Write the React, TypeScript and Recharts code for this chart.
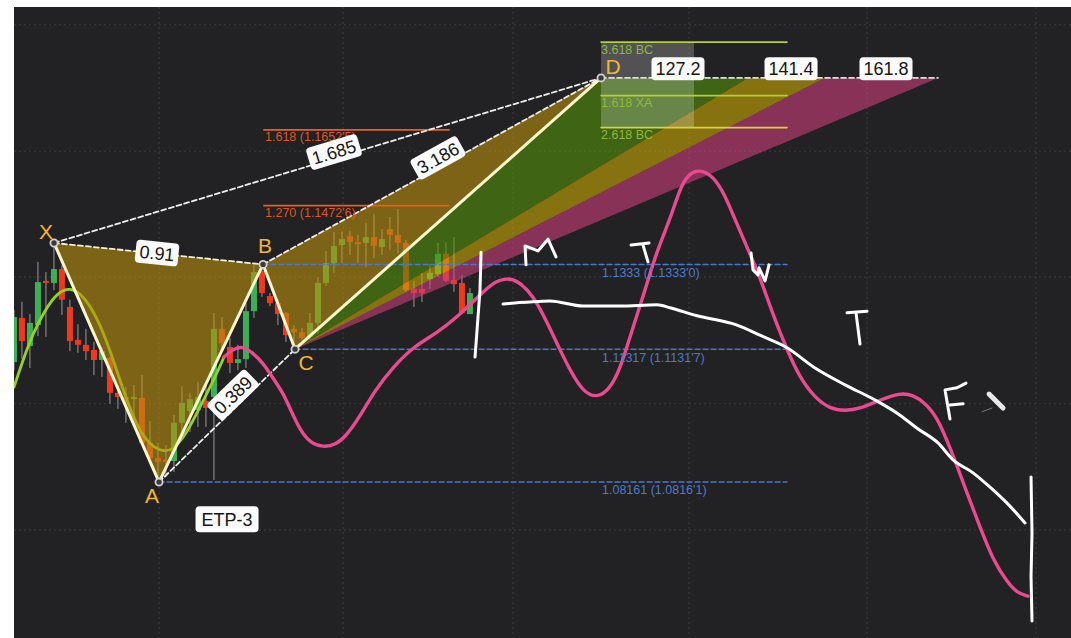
import React from 'react';
import { ComposedChart, XAxis, YAxis, CartesianGrid, Bar, Line, Area, Scatter, ReferenceArea } from 'recharts';

// candles: x = bar number, open / close / high / low in price
const barNumbers = Array.from({ length: 58 }, (_, i) => i - 1);
const opens = [1.1101,1.1206,1.1139,1.1189,1.1294,1.1289,1.1322,1.1232,1.1154,1.1142,1.1130,1.1106,1.1111,1.1028,1.1018,1.1013,1.1016,1.0909,1.0873,1.0869,1.0866,1.0957,1.0985,1.0987,1.1009,1.1018,1.1180,1.1137,1.1099,1.1108,1.1222,1.1317,1.1258,1.1241,1.1218,1.1180,1.1172,1.1161,1.1194,1.1289,1.1336,1.1379,1.1400,1.1386,1.1384,1.1398,1.1374,1.1417,1.1403,1.1384,1.1275,1.1275,1.1298,1.1310,1.1358,1.1296,1.1289,1.1215];
const closes = [1.1208,1.1151,1.1194,1.1291,1.1289,1.1322,1.1249,1.1151,1.1142,1.1127,1.1106,1.1127,1.1028,1.1018,1.1013,1.1018,1.0909,1.0873,1.0864,1.0864,1.0957,1.1004,1.1013,1.1018,1.0992,1.1180,1.1146,1.1099,1.1108,1.1222,1.1315,1.1265,1.1241,1.1215,1.1165,1.1172,1.1158,1.1194,1.1289,1.1336,1.1377,1.1393,1.1386,1.1381,1.1398,1.1377,1.1393,1.1403,1.1384,1.1272,1.1265,1.1265,1.1313,1.1358,1.1294,1.1286,1.1218,1.1265];
const highs = [1.1225,1.1244,1.1215,1.1339,1.1315,1.1384,1.1332,1.1249,1.1191,1.1180,1.1149,1.1137,1.1113,1.1047,1.1042,1.1047,1.1070,1.0961,1.0909,1.0904,1.0975,1.1044,1.1028,1.1054,1.1054,1.1218,1.1208,1.1158,1.1142,1.1241,1.1332,1.1332,1.1265,1.1249,1.1220,1.1189,1.1182,1.1218,1.1303,1.1365,1.1410,1.1412,1.1412,1.1403,1.1431,1.1453,1.1417,1.1446,1.1465,1.1391,1.1294,1.1313,1.1334,1.1384,1.1386,1.1398,1.1308,1.1277];
const lows = [1.1082,1.1108,1.1087,1.1163,1.1161,1.1272,1.1213,1.1127,1.1123,1.1106,1.1070,1.1066,1.1002,1.0990,1.0957,1.0964,1.0904,1.0873,1.0826,1.0828,1.0840,1.0933,1.0935,1.0947,1.0947,1.0821,1.1130,1.1075,1.1082,1.1087,1.1206,1.1256,1.1234,1.1189,1.1149,1.1137,1.1154,1.1154,1.1168,1.1282,1.1313,1.1336,1.1355,1.1336,1.1327,1.1348,1.1355,1.1367,1.1360,1.1268,1.1232,1.1244,1.1275,1.1303,1.1291,1.1268,1.1218,1.1215];

type Pair = [number, number];

// pattern pivots
const X: Pair = [4, 1.1384];
const A: Pair = [17.13, 1.0816];
const B: Pair = [30.13, 1.1333];
const C: Pair = [34.13, 1.11317];
const D: Pair = [72.38, 1.1776];
const E161: Pair = [114.5, 1.1776];

// shaded zones: [bar, low, high]
const zoneXAB = [[4, 1.1384, 1.1384], [17.13, 1.0816, 1.1358], [30.13, 1.1333, 1.1333]];
const zoneBCD = [[30.13, 1.1333, 1.1333], [34.13, 1.11317, 1.1375], [72.38, 1.1776, 1.1776]];
const zoneGreen = [[34.13, 1.11317, 1.11317], [72.38, 1.1567, 1.1776], [90.75, 1.1776, 1.1776]];
const zoneOlive = [[34.13, 1.11317, 1.11317], [90.75, 1.1682, 1.1776], [100.38, 1.1776, 1.1776]];
const zonePink = [[34.13, 1.11317, 1.11317], [100.38, 1.1663, 1.1776], [114.5, 1.1776, 1.1776]];

const movingAverage: Pair[] = [[-1,1.1042],[0,1.1099],[1.38,1.1170],[2.88,1.1225],[4.38,1.1265],[6,1.1279],[7.63,1.1260],[9.38,1.1208],[11,1.1130],[12.63,1.1035],[14.38,1.0947],[16,1.0904],[17.63,1.0888],[18.88,1.0892],[20.63,1.0933],[22.25,1.0994],[24.38,1.1075],[25.25,1.1113]];
const pinkForecast: Pair[] = [[25.25,1.1113],[26.38,1.1132],[27.5,1.1139],[28.75,1.1125],[30.13,1.1099],[31.38,1.1063],[32.63,1.1028],[33.63,1.0985],[34.75,1.0940],[36,1.0909],[37.63,1.0899],[39.13,1.0904],[40.38,1.0923],[42,1.0964],[44.13,1.1035],[46.38,1.1089],[48.88,1.1137],[51.88,1.1170],[54.38,1.1208],[56.88,1.1253],[58.88,1.1291],[60.63,1.1301],[62,1.1294],[63.88,1.1260],[65.63,1.1196],[67.25,1.1130],[68.5,1.1082],[70.13,1.1030],[71.88,1.1016],[73.38,1.1035],[74.75,1.1082],[76.25,1.1177],[77.63,1.1256],[79.38,1.1367],[81,1.1439],[82.5,1.1529],[83.75,1.1553],[84.88,1.1557],[86.38,1.1543],[87.88,1.1498],[89.13,1.1439],[90.63,1.1374],[92.25,1.1303],[93.88,1.1213],[95.63,1.1130],[97.25,1.1063],[99.13,1.1016],[101,1.0990],[102.88,1.0985],[104.75,1.0990],[107.25,1.1011],[109.75,1.1028],[111.38,1.1023],[112.88,1.1004],[114.38,1.0971],[116,1.0899],[118.13,1.0790],[119.75,1.0709],[121.38,1.0631],[123.13,1.0579],[124.38,1.0553],[125.75,1.0545]];
const whiteCurve: Pair[] = [[60.13,1.1239],[63.5,1.1244],[66,1.1246],[70.13,1.1234],[74.75,1.1234],[79.38,1.1237],[81,1.1230],[84.38,1.1211],[89.38,1.1189],[92.25,1.1165],[95.63,1.1135],[99.13,1.1087],[102.88,1.1047],[106.63,1.1011],[109.75,1.0975],[111.88,1.0944],[114.5,1.0909],[116.38,1.0869],[118.88,1.0838],[121,1.0804],[123.13,1.0766],[125.38,1.0719]];

// hand-drawn strokes
const handStrokes: Pair[][] = [
  [[57.38,1.1362],[57.25,1.1272],[56.63,1.1113]],
  [[126.13,1.0828],[126.25,1.0695],[126.13,1.0591],[126.25,1.0486]],
  [[63,1.1332],[62.88,1.1377],[64.5,1.1365],[65.75,1.1393],[66.75,1.1351]],
  [[76.13,1.1379],[78.38,1.1384]],
  [[77.63,1.1379],[78.25,1.1339]],
  [[91.13,1.1360],[91.38,1.1320],[92,1.1308],[92.13,1.1325],[92.88,1.1294],[93.38,1.1332]],
  [[103.13,1.1218],[105.63,1.1222]],
  [[104.25,1.1218],[104.75,1.1144]],
  [[118,1.1051],[116.88,1.1040],[115.38,1.1035],[116,1.0966]],
  [[116,1.0999],[117.63,1.1002]],
];
const pencilBody: Pair[] = [[120.88,1.1025],[122.63,1.0992]];
const pencilMark: Pair[] = [[120,1.0983],[121.25,1.0992]];

// levels
const greenLevels = [1.1861, 1.1734];
const goldLevel = 1.1658;
const levelBarsGreen: Pair = [72.38, 95.63];
const orangeLevels = [1.16525, 1.14726];
const orangeBars: Pair = [30.25, 53.38];
const blueLevels: Pair[] = [[30.13, 1.1333], [34.13, 1.11317], [17.13, 1.08161]];
const blueEndBar = 95.63;

const gridBars = [17.13, 40.13, 61.38, 83.38, 105.63, 126.75];
const gridPrices = [1.1902, 1.1602, 1.1303, 1.1002, 1.0702];

const greenTexts = [{ x: 72.38, y: 1.1833, t: '3.618 BC' }, { x: 72.38, y: 1.1707, t: '1.618 XA' }, { x: 72.38, y: 1.1631, t: '2.618 BC' }];
const orangeTexts = [{ x: 30.38, y: 1.1626, t: "1.618 (1.1652'5)" }, { x: 30.38, y: 1.1446, t: "1.270 (1.1472'6)" }];
const blueTexts = [{ x: 72.5, y: 1.1303, t: "1.1333 (1.1333'0)" }, { x: 72.5, y: 1.1101, t: "1.11317 (1.1131'7)" }, { x: 72.5, y: 1.0788, t: "1.08161 (1.0816'1)" }];
const pivotTexts = [{ x: 3, y: 1.1393, t: 'X' }, { x: 30.38, y: 1.1360, t: 'B' }, { x: 16.25, y: 1.0766, t: 'A' }, { x: 35.5, y: 1.1082, t: 'C' }, { x: 73.88, y: 1.1785, t: 'D' }];
const badgeTexts = [
  { x: 16.88, y: 1.1360, t: '0.91' }, { x: 26.38, y: 1.1023, t: '0.389' }, { x: 39, y: 1.1600, t: '1.685' }, { x: 52, y: 1.1586, t: '3.186' },
  { x: 82, y: 1.1798, t: '127.2' }, { x: 96.13, y: 1.1798, t: '141.4' }, { x: 108, y: 1.1798, t: '161.8' }, { x: 25.63, y: 1.0728, t: 'ETP-3' },
];
const badgeAngles: Record<string, number> = { '0.91': 5.9, '0.389': -44, '1.685': -16.8, '3.186': -29 };

const candles = barNumbers.map((x, i) => ({ x, open: opens[i], close: closes[i], high: highs[i], low: lows[i] }));
const toRows = (p: Pair[]) => p.map(([x, y]) => ({ x, y }));
const toZone = (z: number[][]) => z.map(([x, lo, hi]) => ({ x, range: [lo, hi] }));
const FONT = '"Liberation Sans", Arial, sans-serif';

const CandleShape = (p: any) => {
  const { x, y, width, height, payload } = p;
  if (height == null) return null;
  const span = payload.high - payload.low;
  const at = (v: number) => y + ((payload.high - v) / span) * height;
  const up = payload.close >= payload.open;
  const top = at(Math.max(payload.open, payload.close));
  const bot = at(Math.min(payload.open, payload.close));
  const cx = x + width / 2;
  return (
    <g>
      <line x1={cx} x2={cx} y1={y} y2={y + height} stroke="#9a9a9a" strokeWidth={1} />
      <rect x={cx - 3} y={top} width={6} height={Math.max(bot - top, 1.5)} fill={up ? '#3cb058' : '#f0381c'} />
    </g>
  );
};

const textShape = (fill: string, size: number, anchor: 'start' | 'middle') => (p: any) => (
  <text x={p.cx} y={p.cy} fill={fill} fontSize={size} fontFamily={FONT} textAnchor={anchor}>{p.payload.t}</text>
);

const BadgeShape = (p: any) => {
  const t: string = p.payload.t;
  const w = t === 'ETP-3' ? 63 : t.length * 10 + 3;
  const h = t === 'ETP-3' ? 26 : 23;
  return (
    <g transform={`translate(${p.cx},${p.cy}) rotate(${badgeAngles[t] ?? 0})`}>
      <rect x={-w / 2} y={-h / 2} width={w} height={h} rx={4} fill="#fbfbfb" />
      <text x={0} y={6.5} textAnchor="middle" fontSize={18} fontFamily={FONT} fill="#161616">{t}</text>
    </g>
  );
};

const PivotDot = (p: any) => <circle cx={p.cx} cy={p.cy} r={3.6} fill="#3a3a3c" stroke="#d2d2d2" strokeWidth={1.8} />;

const seg = (key: string, pts: Pair[], stroke: string, width: number, dash?: string, type: any = 'linear', z?: number) => (
  <Line key={key} data={toRows(pts)} dataKey="y" type={type} stroke={stroke} strokeWidth={width} strokeDasharray={dash}
    dot={false} activeDot={false} isAnimationActive={false} legendType="none" strokeLinecap="round" strokeLinejoin="round" {...(z != null ? { zIndex: z } : {})} />
);
const zone = (key: string, z: number[][], fill: string) => (
  <Area key={key} data={toZone(z)} dataKey="range" type="linear" stroke="none" fill={fill} fillOpacity={0.6}
    dot={false} activeDot={false} isAnimationActive={false} legendType="none" />
);
const labels = (key: string, d: any[], shape: any) => (
  <Scatter key={key} data={d} dataKey="y" shape={shape} isAnimationActive={false} legendType="none" />
);

export default function App() {
  return (
    <div style={{ position: 'fixed', left: 14, top: 7, width: 1057, height: 631, overflow: 'hidden', background: '#222124' }}>
      <ComposedChart width={1057} height={631} data={candles} margin={{ top: 0, right: 0, bottom: 0, left: 0 }}>
        <XAxis dataKey="x" type="number" domain={[-1, 131.125]} hide allowDataOverflow />
        <YAxis dataKey="y" type="number" domain={[1.04457, 1.19444]} hide allowDataOverflow />
        <CartesianGrid stroke="#3e3d41" strokeDasharray="2 3" horizontalValues={gridPrices} verticalValues={gridBars} />
        <Bar zIndex={50} dataKey={(d: any) => [d.low, d.high]} barSize={6} shape={CandleShape} isAnimationActive={false} legendType="none" />
        {seg('ma', movingAverage, '#96d220', 2.8, undefined, 'basis', 60)}
        {zone('xab', zoneXAB, '#bb8f0c')}
        {zone('bcd', zoneBCD, '#bb8f0c')}
        {zone('green', zoneGreen, '#52910a')}
        {zone('olive', zoneOlive, '#caaa02')}
        {zone('pink', zonePink, '#cf3e7b')}
        <ReferenceArea x1={72.38} x2={84} y1={1.16572} y2={1.18615} fill="#ffffff" fillOpacity={0.22} stroke="none" />
        {greenLevels.map((v, i) => seg(`gl${i}`, [[levelBarsGreen[0], v], [levelBarsGreen[1], v]], '#b4d034', 1.6))}
        {seg('gold', [[levelBarsGreen[0], goldLevel], [levelBarsGreen[1], goldLevel]], '#d8d23a', 1.6)}
        {orangeLevels.map((v, i) => seg(`ol${i}`, [[orangeBars[0], v], [orangeBars[1], v]], '#e8601c', 1.8))}
        {blueLevels.map(([b, v], i) => seg(`bl${i}`, [[b, v], [blueEndBar, v]], '#4d78c4', 1.5, '5 3'))}
        {seg('xb', [X, B], '#f3efd8', 1.8, '5 3')}
        {seg('xd', [X, D], '#eeeeee', 1.8, '5 3')}
        {seg('bd', [B, D], '#eeeeee', 1.8, '5 3')}
        {seg('ac', [A, C], '#eeeeee', 1.8, '5 3')}
        {seg('de', [D, E161], '#dddddd', 1.6, '5 3')}
        {seg('pink', pinkForecast, '#ea4a8f', 3.4, undefined, 'basis')}
        {seg('xabcd', [X, A, B, C, D], '#fbf6cc', 3)}
        {seg('white', whiteCurve, '#ffffff', 3, undefined, 'monotone')}
        {handStrokes.map((s, i) => seg(`h${i}`, s, '#ffffff', 3))}
        {seg('pb', pencilBody, '#e8e8e8', 5)}
        {seg('pm', pencilMark, '#77777a', 1)}
        {labels('gt', greenTexts, textShape('#8fb83c', 12.5, 'start'))}
        {labels('ot', orangeTexts, textShape('#dd5a1e', 12.5, 'start'))}
        {labels('bt', blueTexts, textShape('#4e7bc9', 12.5, 'start'))}
        {labels('pt', pivotTexts, textShape('#f2b632', 21, 'middle'))}
        {labels('pv', toRows([X, A, B, C, D]), PivotDot)}
        {labels('bd2', badgeTexts, BadgeShape)}
      </ComposedChart>
    </div>
  );
}
